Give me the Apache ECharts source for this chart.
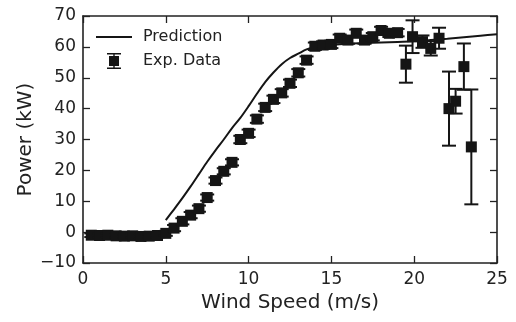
<!DOCTYPE html>
<html>
<head>
<meta charset="utf-8">
<script src="https://cdn.jsdelivr.net/npm/echarts@6/dist/echarts.min.js"></script>
<style>
  html, body { margin: 0; padding: 0; background: #fff; }
  #chart { width: 516px; height: 322px; }
</style>
</head>
<body>
<div id="chart"></div>
<script>
// measured wind turbine power curve
const expX = [0.5, 1, 1.5, 2, 2.5, 3, 3.5, 4, 4.5,
  5, 5.5, 6, 6.5, 7, 7.5, 8, 8.5, 9, 9.5, 10, 10.5, 11, 11.5, 12, 12.5, 13, 13.5, 14,
  14.5, 15, 15.5, 16, 16.5, 17, 17.5, 18, 18.5, 19,
  19.5, 19.9, 20.5, 21, 21.5, 22.1, 22.5, 23, 23.45];
const expY = [-1.0, -1.1, -1.0, -1.2, -1.3, -1.2, -1.4, -1.3, -1.1,
  -0.4, 1.3, 3.5, 5.5, 7.6, 11.2, 16.7, 19.7, 22.6, 30, 32, 36.6, 40.4, 43, 45.1, 48.2, 51.6, 55.7, 60.2,
  60.6, 60.8, 62.8, 62.2, 64.4, 62.2, 63.3, 65.3, 64.4, 64.6,
  54.4, 63.3, 61.7, 59.5, 62.8, 40, 42.4, 53.6, 27.6];
const expErr = [0.6, 0.6, 0.6, 0.6, 0.6, 0.6, 0.6, 0.6, 0.6,
  0.8, 1, 1, 1, 1, 1, 1, 1, 1, 1.2, 1.2, 1.2, 1.2, 1.2, 1.2, 1.2, 1.2, 1.2, 1.2,
  1.2, 1.2, 1.2, 1.2, 1.2, 1.2, 1.2, 1.2, 1.2, 1.2,
  6, 5.3, 2, 2.3, 3.4, 12, 4, 7.5, 18.6];

const predX = [5, 5.5, 6, 6.5, 7, 7.5, 8, 8.5, 9, 9.5, 10, 10.5, 11, 11.5, 12, 12.5, 13, 13.5, 14,
  15, 16, 17, 18, 19, 20, 21, 22, 23, 24, 25];
const predY = [3.9, 7.4, 11, 14.8, 18.8, 22.8, 26.5, 30, 33.7, 37, 40.8, 44.8, 48.6, 51.7, 54.4, 56.4, 57.8, 59.2, 60,
  60.6, 61, 61.2, 61.4, 61.6, 61.8, 62.2, 62.6, 63.1, 63.6, 64.1];

const xTicks = [0, 5, 10, 15, 20, 25];
const yTicks = [-10, 0, 10, 20, 30, 40, 50, 60, 70];

const ink = "#151515";
const font = "DejaVu Sans";
const minus = (v) => String(v).replace("-", "\u2212");

const chart = echarts.init(document.getElementById("chart"), null, { renderer: "canvas" });

const frame = { show: true, onZero: false, lineStyle: { color: "#222", width: 1.6 } };
const ticksIn = { show: true, inside: true, length: 7, lineStyle: { color: "#222", width: 1.3 } };

function xAxisBase(pos) {
  return {
    type: "value", position: pos, min: xTicks[0], max: xTicks[xTicks.length - 1], interval: 5,
    axisLine: frame, axisTick: ticksIn, splitLine: { show: false },
  };
}
function yAxisBase(pos) {
  return {
    type: "value", position: pos, min: yTicks[0], max: yTicks[yTicks.length - 1], interval: 10,
    axisLine: frame, axisTick: ticksIn, splitLine: { show: false },
  };
}

const expData = expX.map((x, i) => [x, expY[i], expErr[i]]);

const option = {
  animation: false,
  backgroundColor: "#fff",
  grid: { left: 83, right: 19, top: 16, bottom: 59 },
  legend: {
    left: 96, top: 29, orient: "vertical", padding: 0,
    itemWidth: 36, itemHeight: 16, itemGap: 8,
    textStyle: { fontFamily: font, fontSize: 16, color: "#222", padding: [0, 0, 0, 6] },
    data: [
      { name: "Prediction", icon: "path://M0,0M36,16M0,7H36V9H0Z" },
      { name: "Exp. Data", icon: "path://M0,0M36,16M13,3H23V13H13Z M17.3,0H18.7V16H17.3Z M11,0H25V1.5H11Z M11,14.5H25V16H11Z" },
    ],
  },
  xAxis: [
    Object.assign(xAxisBase("bottom"), {
      name: "Wind Speed (m/s)", nameLocation: "middle", nameGap: 28,
      nameTextStyle: { fontFamily: font, fontSize: 20, color: "#222" },
      axisLabel: { fontFamily: font, fontSize: 17, color: "#222", margin: 8, formatter: minus },
    }),
    Object.assign(xAxisBase("top"), { axisLabel: { show: false } }),
  ],
  yAxis: [
    Object.assign(yAxisBase("left"), {
      name: "Power (kW)", nameLocation: "middle", nameGap: 47, nameMoveOverlap: false,
      nameTextStyle: { fontFamily: font, fontSize: 20, color: "#222" },
      axisLabel: { fontFamily: font, fontSize: 17, color: "#222", margin: 7, formatter: minus },
    }),
    Object.assign(yAxisBase("right"), { axisLabel: { show: false } }),
  ],
  series: [
    {
      name: "Prediction",
      type: "line",
      data: predX.map((x, i) => [x, predY[i]]),
      symbol: "none",
      smooth: 0.3,
      lineStyle: { color: ink, width: 2 },
      itemStyle: { color: ink },
      z: 3,
    },
    {
      name: "Exp. Data",
      type: "custom",
      data: expData,
      itemStyle: { color: ink },
      z: 4,
      renderItem: function (params, api) {
        const x = api.value(0), y = api.value(1), e = api.value(2);
        const c = api.coord([x, y]);
        const hi = api.coord([x, y + e]);
        const lo = api.coord([x, y - e]);
        const cap = 7, half = 5.5;
        const line = { stroke: ink, lineWidth: 2 };
        return {
          type: "group",
          children: [
            { type: "line", shape: { x1: c[0], y1: hi[1], x2: c[0], y2: lo[1] }, style: line },
            { type: "line", shape: { x1: c[0] - cap, y1: hi[1], x2: c[0] + cap, y2: hi[1] }, style: line },
            { type: "line", shape: { x1: c[0] - cap, y1: lo[1], x2: c[0] + cap, y2: lo[1] }, style: line },
            { type: "rect", shape: { x: c[0] - half, y: c[1] - half, width: 2 * half, height: 2 * half }, style: { fill: ink } },
          ],
        };
      },
    },
  ],
};

chart.setOption(option);
</script>
</body>
</html>
